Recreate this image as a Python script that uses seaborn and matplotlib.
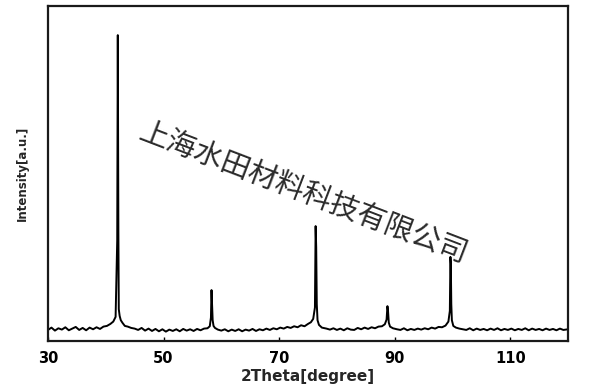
import matplotlib
matplotlib.use("Agg")
import matplotlib.pyplot as plt
import seaborn as sns
import pandas as pd

two_theta = [
    30.0, 30.6, 31.2, 31.8, 32.4, 33.0, 33.6, 34.2, 34.8, 35.4,
    36.0, 36.6, 37.2, 37.8, 38.4, 39.0, 39.6, 40.2, 40.8, 41.3,
    41.7, 41.98, 42.08, 42.18, 42.25, 42.4, 42.6, 42.9, 43.3, 43.8,
    44.4, 45.0, 45.6, 46.2, 46.8, 47.4, 48.0, 48.6, 49.2, 49.8,
    50.4, 51.0, 51.6, 52.2, 52.8, 53.4, 54.0, 54.6, 55.2, 55.8,
    56.4, 57.0, 57.6, 58.0, 58.2, 58.3, 58.4, 58.5, 58.65, 58.9,
    59.4, 60.0, 60.6, 61.2, 61.8, 62.4, 63.0, 63.6, 64.2, 64.8,
    65.4, 66.0, 66.6, 67.2, 67.8, 68.4, 69.0, 69.6, 70.2, 70.8,
    71.4, 72.0, 72.6, 73.2, 73.8, 74.4, 75.0, 75.5, 75.9, 76.2,
    76.32, 76.42, 76.52, 76.65, 76.9, 77.4, 78.2, 78.8, 79.4, 80.0,
    80.6, 81.2, 81.8, 82.4, 83.0, 83.6, 84.2, 84.8, 85.4, 86.0,
    86.6, 87.2, 87.8, 88.3, 88.6, 88.75, 88.85, 88.98, 89.2, 89.7,
    90.4, 91.0, 91.6, 92.2, 92.8, 93.4, 94.0, 94.6, 95.2, 95.8,
    96.4, 97.0, 97.6, 98.2, 98.8, 99.3, 99.55, 99.65, 99.72, 99.8,
    99.9, 100.15, 100.6, 101.2, 101.8, 102.4, 103.0, 103.6, 104.2, 104.8,
    105.4, 106.0, 106.6, 107.2, 107.8, 108.4, 109.0, 109.6, 110.2, 110.8,
    111.4, 112.0, 112.6, 113.2, 113.8, 114.4, 115.0, 115.6, 116.2, 116.8,
    117.4, 118.0, 118.6, 119.2, 120.0,
]
intensity = [
    33, 40, 31, 38, 34, 41, 32, 37, 42, 33,
    39, 32, 40, 35, 41, 36, 43, 45, 51, 58,
    72, 300, 913, 330, 95, 75, 62, 54, 45, 43,
    39, 37, 33, 39, 31, 37, 30, 36, 29, 35,
    28, 34, 30, 35, 29, 36, 31, 35, 30, 36,
    32, 37, 38, 44, 70, 152, 110, 62, 45, 39,
    34, 31, 35, 29, 34, 30, 35, 29, 34, 31,
    36, 30, 35, 32, 37, 33, 38, 35, 40, 37,
    42, 39, 44, 41, 47, 44, 51, 56, 66, 100,
    343, 280, 110, 62, 48, 40, 37, 34, 38, 33,
    37, 32, 38, 34, 33, 39, 35, 40, 36, 41,
    38, 43, 44, 50, 64, 104, 90, 55, 43, 38,
    35, 33, 38, 32, 36, 33, 37, 34, 38, 35,
    40, 37, 42, 41, 46, 58, 90, 251, 230, 110,
    62, 45, 40, 37, 35, 33, 38, 32, 37, 33,
    36, 32, 37, 33, 38, 32, 36, 33, 37, 32,
    36, 33, 38, 32, 37, 33, 36, 32, 37, 33,
    36, 32, 37, 33, 35,
]
x_ticks = [30, 50, 70, 90, 110]
x_label = "2Theta[degree]"
y_label = "Intensity[a.u.]"
watermark = "上海水田材料科技有限公司"

df = pd.DataFrame({"two_theta": two_theta, "intensity": intensity})

sns.set_theme(style="white")
plt.rcParams["font.family"] = ["DejaVu Sans"]

fig = plt.figure(figsize=(5.89, 3.92), dpi=100)
ax = fig.add_axes([48 / 589, 1 - 341 / 392, (568 - 48) / 589, (341 - 6) / 392])

sns.lineplot(data=df, x="two_theta", y="intensity", ax=ax, color="black",
             linewidth=1.4, estimator=None, sort=False)

ax.set_xlim(30, 120)
ax.set_ylim(0, 1000)
ax.set_xticks(x_ticks)
ax.set_xticklabels([str(t) for t in x_ticks], fontsize=10.5, fontweight="bold")
ax.set_yticks([])
ax.tick_params(axis="x", direction="in", length=3, width=1, pad=7,
               bottom=True, colors="black")
ax.set_xlabel(x_label, fontsize=11, fontweight="bold", labelpad=2)
ax.set_ylabel(y_label, fontsize=8.5, fontweight="bold", labelpad=14)

for s in ax.spines.values():
    s.set_visible(True)
    s.set_color("#1a1a1a")
    s.set_linewidth(1.6)

fig.text(0.515, 0.508, watermark, fontsize=21, rotation=-21,
         ha="center", va="center", color="#2b2b2b",
         family=["Noto Sans CJK SC", "DejaVu Sans"], fontweight="light",
         rotation_mode="anchor")

fig.savefig("out.png", dpi=100, facecolor="white")
